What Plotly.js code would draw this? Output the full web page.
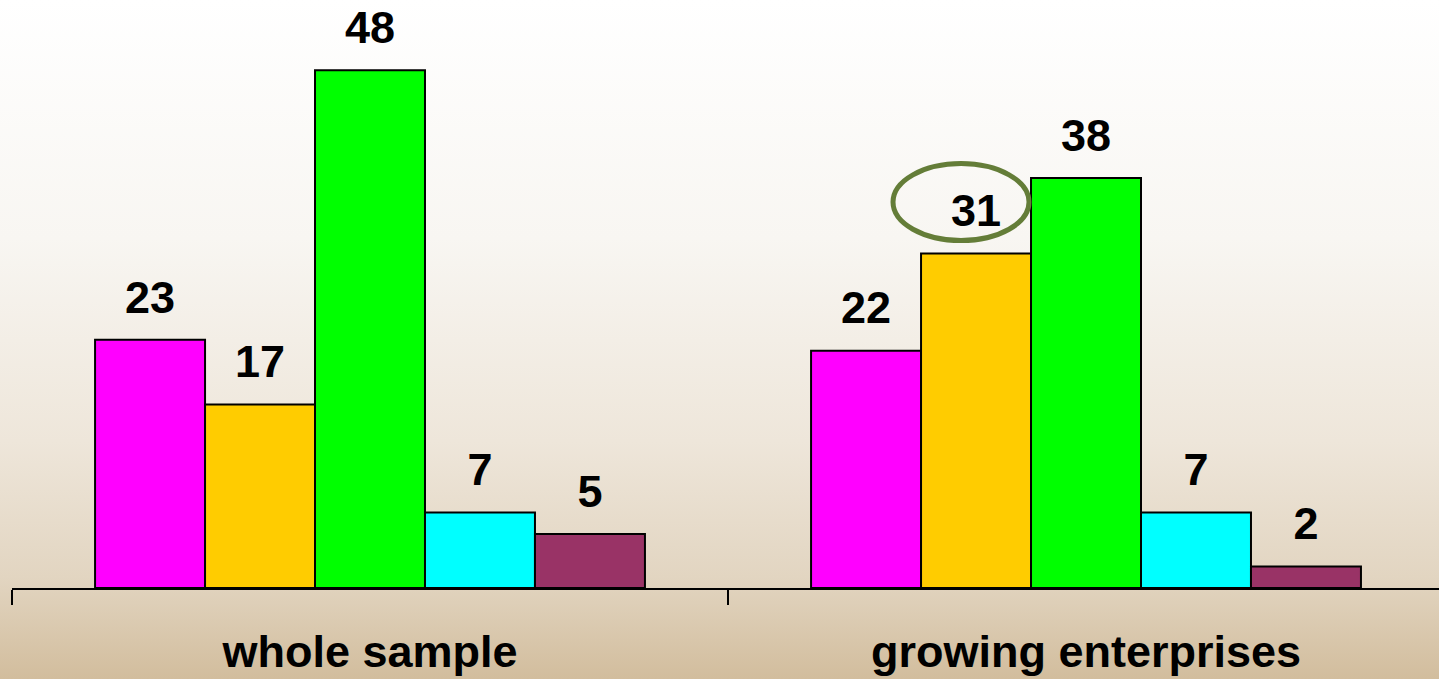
<!DOCTYPE html>
<html>
<head>
<meta charset="utf-8">
<script src="https://cdn.plot.ly/plotly-3.0.1.min.js"></script>
<style>
  html, body { margin: 0; padding: 0; width: 1439px; height: 679px; overflow: hidden; }
  body { background: linear-gradient(to bottom, #FFFFFF 0%, #F8F6F2 35%, #EEE6DA 65%, #E2D5C1 85%, #D2BD9D 100%); }
  #chart { width: 1439px; height: 679px; }
</style>
</head>
<body>
<div id="chart"></div>
<script>
// ---- data ----
const categories = ['whole sample', 'growing enterprises'];
const seriesNames = ['Series 1', 'Series 2', 'Series 3', 'Series 4', 'Series 5'];
const series1 = [23, 22];
const series2 = [17, 31];
const series3 = [48, 38];
const series4 = [7, 7];
const series5 = [5, 2];
const seriesValues = [series1, series2, series3, series4, series5];
const seriesColors = ['#FF00FF', '#FFCC00', '#00FF00', '#00FFFF', '#993366'];

const valueFont = { family: 'Liberation Sans, Arial, sans-serif', size: 45, color: '#000000', weight: 'bold' };
const tickFont = { family: 'Liberation Sans, Arial, sans-serif', size: 45, color: '#000000', weight: 'bold' };

const traces = [];
seriesValues.forEach((vals, i) => {
  traces.push({
    type: 'bar',
    name: seriesNames[i],
    x: categories,
    y: vals,
    offsetgroup: 'g' + i,
    marker: { color: seriesColors[i], line: { color: '#000000', width: 2 } },
    hoverinfo: 'x+y'
  });
});
seriesValues.forEach((vals, i) => {
  traces.push({
    type: 'scatter',
    mode: 'text+markers',
    name: seriesNames[i] + ' labels',
    x: categories,
    y: vals,
    offsetgroup: 'g' + i,
    text: vals.map(String),
    textposition: 'top center',
    textfont: valueFont,
    marker: { size: 24, opacity: 0 },
    cliponaxis: false,
    hoverinfo: 'skip',
    showlegend: false
  });
});

const layout = {
  width: 1439,
  height: 679,
  margin: { l: 12, r: 0, t: 0, b: 91 },
  paper_bgcolor: 'rgba(0,0,0,0)',
  plot_bgcolor: 'rgba(0,0,0,0)',
  showlegend: false,
  barmode: 'group',
  bargap: 0.232,
  bargroupgap: 0,
  scattermode: 'group',
  scattergap: 0.232,
  xaxis: {
    type: 'category',
    range: [-0.5, 1.493],
    showline: true,
    linecolor: '#000000',
    linewidth: 2,
    ticks: 'outside',
    tickson: 'boundaries',
    ticklen: 15,
    tickwidth: 2,
    tickcolor: '#000000',
    ticklabelstandoff: 23,
    showgrid: false,
    zeroline: false,
    tickfont: tickFont,
    fixedrange: true
  },
  yaxis: {
    range: [0, 54.5],
    visible: false,
    showgrid: false,
    zeroline: false,
    fixedrange: true
  },
  shapes: [{
    type: 'circle',
    xref: 'x', yref: 'y',
    xsizemode: 'pixel', ysizemode: 'pixel',
    xanchor: 1, yanchor: series2[1],
    x0: -193, x1: -57,
    y0: 13, y1: 90,
    line: { color: '#647D38', width: 5 }
  }]
};

Plotly.newPlot('chart', traces, layout, { displayModeBar: false, staticPlot: true });
</script>
</body>
</html>
